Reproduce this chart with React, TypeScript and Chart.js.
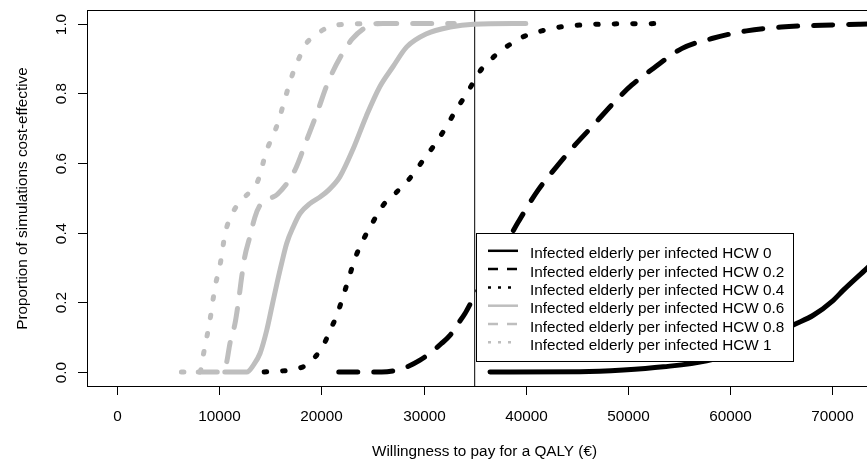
import React, { useEffect, useRef } from "react";
import { Chart, registerables } from "chart.js";

Chart.register(...registerables);

// ---------- data ----------
const seriesLabels = [
  "Infected elderly per infected HCW 0",
  "Infected elderly per infected HCW 0.2",
  "Infected elderly per infected HCW 0.4",
  "Infected elderly per infected HCW 0.6",
  "Infected elderly per infected HCW 0.8",
  "Infected elderly per infected HCW 1",
];

// HCW 0 (black solid)
const wtp0 = [36500, 45300, 49550, 53450, 57700, 62000, 66170, 68130, 70090, 71070, 73350, 76000];
const prob0 = [0, 0.001, 0.006, 0.015, 0.032, 0.07, 0.135, 0.163, 0.206, 0.235, 0.297, 0.37];

// HCW 0.2 (black dashed)
const wtp02 = [21700, 25900, 27700, 29650, 31750, 32600, 33400, 34050, 34850, 36500, 38000, 39270, 41200, 43000, 44800, 46600, 48550, 50350, 52500, 55250, 58200, 61600, 65000, 69000, 72700, 76000];
const prob02 = [0, 0, 0.008, 0.034, 0.082, 0.106, 0.14, 0.168, 0.211, 0.29, 0.365, 0.431, 0.522, 0.589, 0.651, 0.708, 0.771, 0.823, 0.872, 0.928, 0.957, 0.979, 0.99, 0.995, 0.998, 1];

// HCW 0.4 (black dotted)
const wtp04 = [14400, 18200, 19400, 20200, 20850, 21500, 22000, 22500, 22950, 23450, 24100, 24750, 26050, 27200, 28200, 29150, 29950, 30800, 31600, 32400, 33150, 33900, 34700, 35350, 36350, 37450, 38600, 39900, 41550, 43350, 45000, 47000, 53500];
const prob04 = [0, 0.015, 0.044, 0.077, 0.12, 0.162, 0.206, 0.252, 0.295, 0.338, 0.38, 0.415, 0.479, 0.512, 0.541, 0.574, 0.608, 0.641, 0.675, 0.713, 0.751, 0.785, 0.823, 0.857, 0.89, 0.919, 0.943, 0.964, 0.979, 0.99, 0.995, 0.998, 1];

// HCW 0.6 (grey solid)
const wtp06 = [10550, 12700, 13350, 14000, 14650, 15150, 15650, 16100, 16600, 17250, 17900, 18900, 19900, 20700, 21800, 23100, 24400, 25700, 27000, 28350, 30300, 32600, 34900, 40000];
const prob06 = [0, 0, 0.02, 0.054, 0.12, 0.187, 0.254, 0.311, 0.369, 0.417, 0.455, 0.484, 0.503, 0.522, 0.56, 0.64, 0.735, 0.818, 0.876, 0.933, 0.971, 0.99, 0.998, 1];

// HCW 0.8 (grey dashed)
const wtp08 = [7950, 9900, 10700, 11050, 11550, 11900, 12200, 12500, 13000, 13500, 14000, 14970, 15700, 17400, 18550, 19600, 20600, 21900, 23000, 24400, 26000, 33000];
const prob08 = [0, 0, 0.025, 0.082, 0.14, 0.206, 0.273, 0.331, 0.388, 0.445, 0.479, 0.498, 0.51, 0.579, 0.665, 0.746, 0.828, 0.906, 0.955, 0.99, 1, 1];

// HCW 1 (grey dotted)
const wtp1 = [6300, 8100, 8450, 9100, 9600, 10100, 10600, 11200, 12000, 13000, 13800, 14650, 15300, 15800, 16300, 16800, 17300, 17800, 18400, 19400, 20700, 22300, 27000];
const prob1 = [0, 0, 0.05, 0.15, 0.245, 0.31, 0.4, 0.45, 0.488, 0.517, 0.55, 0.637, 0.68, 0.72, 0.77, 0.82, 0.865, 0.9, 0.938, 0.966, 0.99, 0.998, 1];

const thresholdWtp = 35000;

const xTicks = [0, 10000, 20000, 30000, 40000, 50000, 60000, 70000];
const yTicks = [0, 0.2, 0.4, 0.6, 0.8, 1.0];
const yTickLabels = ["0.0", "0.2", "0.4", "0.6", "0.8", "1.0"];

const xTitle = "Willingness to pay for a QALY (\u20AC)";
const yTitle = "Proportion of simulations cost-effective";

// ---------- styles ----------
const X_MIN = -2838;
const X_MAX = 74658;
const Y_MIN = -0.04;
const Y_MAX = 1.036;
const FONT = '15.3px "Liberation Sans", Arial, sans-serif';
const BLACK = "#000000";
const GREY = "#bebebe";
const colors = [BLACK, BLACK, BLACK, GREY, GREY, GREY];
const DASHED = [19, 16];
const DOTTED = [2.5, 16];
const dashes = [[], DASHED, DOTTED, [], DASHED, DOTTED];
const legendDashes = [[], [10, 9], [3, 7], [], [10, 9], [3, 7]];

const allX = [wtp0, wtp02, wtp04, wtp06, wtp08, wtp1];
const allY = [prob0, prob02, prob04, prob06, prob08, prob1];

function toPoints(xs: number[], ys: number[]) {
  return xs.map((x, i) => ({ x, y: ys[i] }));
}

const rAxesPlugin = {
  id: "rAxes",
  afterDraw(chart: any) {
    const { ctx, chartArea: a, scales } = chart;
    const xs = scales.x;
    const ys = scales.y;
    ctx.save();
    ctx.strokeStyle = BLACK;
    ctx.fillStyle = BLACK;
    ctx.lineWidth = 1;
    // plot box
    ctx.strokeRect(a.left - 0.5, a.top - 0.5, a.right - a.left + 1, a.bottom - a.top + 1);
    ctx.font = FONT;
    // x ticks
    ctx.textAlign = "center";
    ctx.textBaseline = "alphabetic";
    for (const v of xTicks) {
      const px = Math.round(xs.getPixelForValue(v)) + 0.5;
      ctx.beginPath();
      ctx.moveTo(px, a.bottom);
      ctx.lineTo(px, a.bottom + 9);
      ctx.stroke();
      ctx.fillText(String(v), px, 421);
    }
    // y ticks
    yTicks.forEach((v, i) => {
      const py = Math.round(ys.getPixelForValue(v)) + 0.5;
      ctx.beginPath();
      ctx.moveTo(a.left - 10, py);
      ctx.lineTo(a.left, py);
      ctx.stroke();
      ctx.save();
      ctx.translate(66, py);
      ctx.rotate(-Math.PI / 2);
      ctx.textAlign = "center";
      ctx.fillText(yTickLabels[i], 0, 0);
      ctx.restore();
    });
    // titles
    const cx = 484.5;
    ctx.textAlign = "center";
    ctx.fillText(xTitle, cx, 456);
    ctx.save();
    ctx.translate(27, (a.top + a.bottom) / 2);
    ctx.rotate(-Math.PI / 2);
    ctx.fillText(yTitle, 0, 0);
    ctx.restore();
    ctx.restore();
  },
};

const rLegendPlugin = {
  id: "rLegend",
  afterDatasetsDraw(chart: any) {
    const { ctx } = chart;
    const left = 476, top = 233, right = 793, bottom = 361;
    ctx.save();
    ctx.fillStyle = "#ffffff";
    ctx.fillRect(left, top, right - left, bottom - top);
    ctx.strokeStyle = BLACK;
    ctx.lineWidth = 1;
    ctx.strokeRect(left + 0.5, top + 0.5, right - left, bottom - top);
    ctx.font = FONT;
    ctx.textAlign = "left";
    ctx.textBaseline = "alphabetic";
    seriesLabels.forEach((lab, i) => {
      const y = 250.8 + i * 18.3;
      ctx.strokeStyle = colors[i];
      ctx.lineWidth = 2.5;
      ctx.lineCap = "butt";
      ctx.setLineDash(legendDashes[i]);
      ctx.beginPath();
      ctx.moveTo(488, y);
      ctx.lineTo(518, y);
      ctx.stroke();
      ctx.setLineDash([]);
      ctx.fillStyle = BLACK;
      ctx.fillText(lab, 530, y + 7.5);
    });
    ctx.restore();
  },
};

export default function App() {
  const ref = useRef<HTMLCanvasElement | null>(null);

  useEffect(() => {
    const canvas = ref.current;
    if (!canvas) return;
    const datasets: any[] = seriesLabels.map((label, i) => ({
      label,
      data: toPoints(allX[i], allY[i]),
      borderColor: colors[i],
      backgroundColor: colors[i],
      borderWidth: 5,
      borderDash: dashes[i],
      borderCapStyle: "round",
      borderJoinStyle: "round",
      cubicInterpolationMode: "monotone",
      pointRadius: 0,
      fill: false,
      clip: 0,
      order: 10 - i,
    }));
    datasets.push({
      label: "threshold",
      data: [
        { x: thresholdWtp, y: -1 },
        { x: thresholdWtp, y: 2 },
      ],
      borderColor: BLACK,
      borderWidth: 1,
      pointRadius: 0,
      fill: false,
      clip: 0,
      order: 20,
    });
    const chart = new Chart(canvas, {
      type: "line",
      data: { datasets },
      options: {
        responsive: false,
        animation: false,
        devicePixelRatio: 1,
        layout: { padding: { left: 88, top: 11, right: 20, bottom: 73 } },
        scales: {
          x: { type: "linear", display: false, min: X_MIN, max: X_MAX },
          y: { type: "linear", display: false, min: Y_MIN, max: Y_MAX },
        },
        plugins: {
          legend: { display: false },
          tooltip: { enabled: false },
        },
        elements: { point: { radius: 0 } },
      } as any,
      plugins: [rLegendPlugin, rAxesPlugin],
    });
    return () => chart.destroy();
  }, []);

  return (
    <div
      style={{
        position: "fixed",
        left: 0,
        top: 0,
        width: 867,
        height: 459,
        overflow: "hidden",
        background: "#ffffff",
      }}
    >
      <canvas ref={ref} width={900} height={459} style={{ display: "block" }} />
    </div>
  );
}
